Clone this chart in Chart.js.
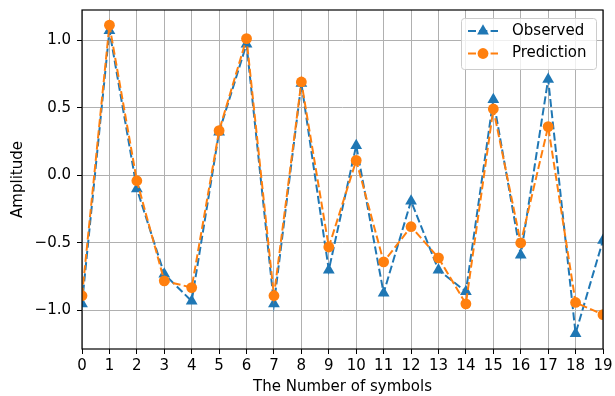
<!DOCTYPE html>
<html>
<head>
<meta charset="utf-8">
<script src="https://cdn.jsdelivr.net/npm/chart.js@4.4.0/dist/chart.umd.min.js"></script>
<style>
  html, body { margin: 0; padding: 0; background: #ffffff; }
  #wrap { width: 615px; height: 396px; }
</style>
</head>
<body>
<div id="wrap"><canvas id="chart" width="615" height="396"></canvas></div>
<script>
// Symbol index along the x axis
const symbols = [0, 1, 2, 3, 4, 5, 6, 7, 8, 9, 10, 11, 12, 13, 14, 15, 16, 17, 18, 19];

const observed = [-0.95, 1.07, -0.10, -0.73, -0.93, 0.32, 0.97, -0.95, 0.68, -0.70,
                  0.22, -0.87, -0.19, -0.70, -0.86, 0.56, -0.59, 0.71, -1.17, -0.48];
const prediction = [-0.89, 1.11, -0.04, -0.78, -0.83, 0.33, 1.01, -0.89, 0.69, -0.53,
                    0.11, -0.64, -0.38, -0.61, -0.95, 0.49, -0.50, 0.36, -0.94, -1.03];

const yTicks = [-1.0, -0.5, 0.0, 0.5, 1.0];
const seriesNames = ['Observed', 'Prediction'];

const FONT = 'DejaVu Sans';
const FONT_SIZE = 15;
const BLUE = '#1f77b4';
const ORANGE = '#ff7f0e';
const DASH = [8, 3.3];

const toPoints = (ys) => symbols.map((x, i) => ({ x: x, y: ys[i] }));

// Matplotlib style axes frame (all four sides)
const framePlugin = {
    id: 'frame',
    afterDraw(chart) {
        const { ctx, chartArea: a } = chart;
        ctx.save();
        ctx.strokeStyle = '#000000';
        ctx.lineWidth = 1.2;
        ctx.strokeRect(a.left, a.top, a.right - a.left, a.bottom - a.top);
        ctx.restore();
    }
};

// Legend drawn inside the plot, upper right
const legendPlugin = {
    id: 'innerLegend',
    afterDraw(chart) {
        const { ctx, chartArea: a } = chart;
        const boxW = 135, boxH = 51;
        const x0 = a.right - 7 - boxW;
        const y0 = a.top + 8;
        ctx.save();
        ctx.fillStyle = 'rgba(255,255,255,0.8)';
        ctx.strokeStyle = '#cccccc';
        ctx.lineWidth = 1;
        ctx.beginPath();
        ctx.roundRect(x0 + 0.5, y0 + 0.5, boxW, boxH, 3);
        ctx.fill();
        ctx.stroke();

        chart.data.datasets.forEach((ds, i) => {
            const cy = y0 + 13 + i * 22.5;
            ctx.strokeStyle = ds.borderColor;
            ctx.lineWidth = 2;
            ctx.setLineDash(DASH);
            ctx.beginPath();
            ctx.moveTo(x0 + 7, cy);
            ctx.lineTo(x0 + 37, cy);
            ctx.stroke();
            ctx.setLineDash([]);
            ctx.fillStyle = ds.pointBackgroundColor;
            ctx.beginPath();
            const mx = x0 + 22;
            if (ds.pointStyle === 'triangle') {
                const r = 6.8;
                ctx.moveTo(mx, cy - r);
                ctx.lineTo(mx + r * 0.866, cy + r * 0.5);
                ctx.lineTo(mx - r * 0.866, cy + r * 0.5);
                ctx.closePath();
            } else {
                ctx.arc(mx, cy, 5.4, 0, Math.PI * 2);
            }
            ctx.fill();

            ctx.fillStyle = '#000000';
            ctx.font = FONT_SIZE + 'px "' + FONT + '"';
            ctx.textBaseline = 'middle';
            ctx.textAlign = 'left';
            ctx.fillText(seriesNames[i], x0 + 51, cy);
        });
        ctx.restore();
    }
};

const ctx = document.getElementById('chart').getContext('2d');
new Chart(ctx, {
    type: 'line',
    data: {
        datasets: [
            {
                label: seriesNames[0],
                data: toPoints(observed),
                borderColor: BLUE,
                backgroundColor: BLUE,
                pointBackgroundColor: BLUE,
                pointBorderColor: BLUE,
                pointStyle: 'triangle',
                pointRadius: 6.8,
                pointBorderWidth: 0,
                borderWidth: 2,
                borderDash: DASH,
                tension: 0,
                order: 1
            },
            {
                label: seriesNames[1],
                data: toPoints(prediction),
                borderColor: ORANGE,
                backgroundColor: ORANGE,
                pointBackgroundColor: ORANGE,
                pointBorderColor: ORANGE,
                pointStyle: 'circle',
                pointRadius: 5.4,
                pointBorderWidth: 0,
                borderWidth: 2,
                borderDash: DASH,
                tension: 0,
                order: 0
            }
        ]
    },
    options: {
        responsive: false,
        animation: false,
        devicePixelRatio: 1,
        layout: { padding: { top: 10, right: 12, left: 0, bottom: 0 } },
        plugins: {
            legend: { display: false },
            tooltip: { enabled: false }
        },
        scales: {
            x: {
                type: 'linear',
                min: 0,
                max: 19,
                afterBuildTicks: (scale) => {
                    scale.ticks = symbols.map(v => ({ value: v }));
                },
                afterFit: (scale) => {
                    scale.height = 47;
                    scale.paddingLeft = 0;
                    scale.paddingRight = 0;
                },
                ticks: {
                    color: '#000000',
                    font: { family: FONT, size: FONT_SIZE },
                    padding: 3,
                    maxRotation: 0,
                    autoSkip: false
                },
                grid: {
                    color: '#b0b0b0',
                    lineWidth: 1,
                    tickColor: '#000000',
                    tickLength: 5
                },
                border: { display: false },
                title: {
                    display: true,
                    text: 'The Number of symbols',
                    color: '#000000',
                    font: { family: FONT, size: FONT_SIZE },
                    padding: { top: 0, bottom: 0 }
                }
            },
            y: {
                type: 'linear',
                min: -1.284,
                max: 1.222,
                afterBuildTicks: (scale) => {
                    scale.ticks = yTicks.map(v => ({ value: v }));
                },
                afterFit: (scale) => {
                    scale.width = 82;
                    scale.paddingTop = 0;
                    scale.paddingBottom = 0;
                },
                ticks: {
                    color: '#000000',
                    font: { family: FONT, size: FONT_SIZE },
                    padding: 6,
                    callback: (v) => (v < 0 ? '\u2212' : '') + Math.abs(v).toFixed(1)
                },
                grid: {
                    color: '#b0b0b0',
                    lineWidth: 1,
                    tickColor: '#000000',
                    tickLength: 5
                },
                border: { display: false },
                title: {
                    display: true,
                    text: 'Amplitude',
                    color: '#000000',
                    font: { family: FONT, size: FONT_SIZE },
                    padding: { top: 9, bottom: 0 }
                }
            }
        }
    },
    plugins: [framePlugin, legendPlugin]
});
</script>
</body>
</html>
